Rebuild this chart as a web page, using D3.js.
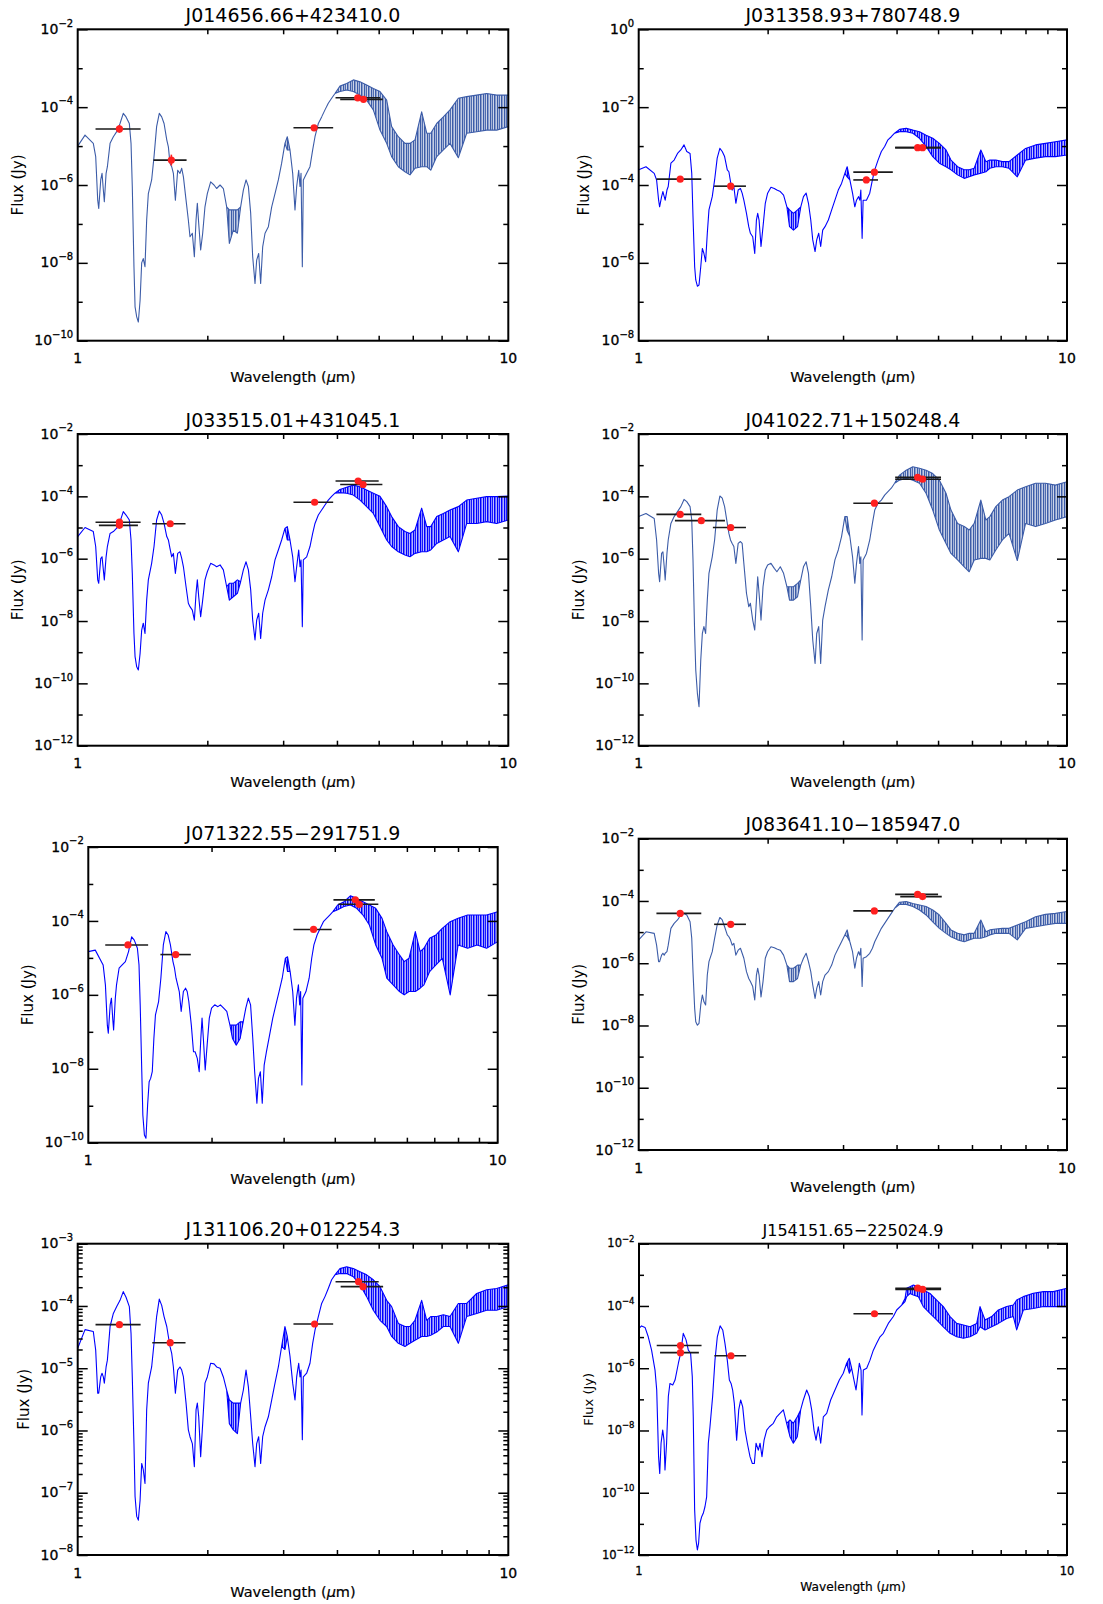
<!DOCTYPE html>
<html>
<head>
<meta charset="utf-8">
<script src="https://cdn.jsdelivr.net/npm/d3@7"></script>
<style>
  body { margin: 0; background: #fff; }
  svg { display: block; font-family: "DejaVu Sans", sans-serif; }
</style>
</head>
<body>
<svg id="fig" width="1103" height="1604"></svg>
<script>
// Object designations, one per panel
const objects = [
  "J014656.66+423410.0", "J031358.93+780748.9",
  "J033515.01+431045.1", "J041022.71+150248.4",
  "J071322.55\u2212291751.9", "J083641.10\u2212185947.0",
  "J131106.20+012254.3", "J154151.65\u2212225024.9"
];

// Model spectra: [wavelength (um), log10 flux low (Jy), log10 flux high (Jy)]
// (high omitted where the spectrum is a single line)
const spec014656 = [[1.00,-5.00],[1.04,-4.72],[1.087,-4.93],[1.101,-5.27],[1.113,-6.39],[1.119,-6.60],[1.131,-5.87],[1.139,-5.70],[1.147,-6.13],[1.153,-6.43],[1.164,-5.70],[1.172,-5.53],[1.189,-4.93],[1.21,-4.76],[1.232,-4.63],[1.254,-4.42],[1.276,-4.16],[1.295,-4.25],[1.318,-4.42],[1.33,-4.93],[1.339,-6.04],[1.351,-8.10],[1.359,-9.13],[1.371,-9.39],[1.383,-9.52],[1.396,-8.96],[1.408,-8.00],[1.42,-7.89],[1.433,-8.10],[1.446,-6.90],[1.459,-6.22],[1.485,-5.87],[1.504,-5.27],[1.525,-4.50],[1.547,-4.16],[1.567,-4.25],[1.587,-4.42],[1.61,-4.84],[1.624,-5.02],[1.638,-5.44],[1.653,-5.53],[1.668,-5.70],[1.686,-6.39],[1.707,-5.62],[1.728,-5.70],[1.744,-5.57],[1.76,-5.79],[1.785,-6.39],[1.807,-6.90],[1.823,-7.33],[1.846,-7.24],[1.866,-7.84],[1.883,-6.90],[1.896,-6.47],[1.91,-6.99],[1.93,-7.67],[1.951,-7.24],[1.975,-6.56],[2.0,-6.22],[2.036,-5.92],[2.073,-6.00],[2.102,-6.09],[2.141,-6.00],[2.179,-6.09],[2.218,-6.56],[2.25,-7.50,-6.64],[2.298,-7.16,-6.64],[2.349,-7.24,-6.64],[2.39,-6.56],[2.425,-6.13],[2.46,-5.87],[2.491,-6.04],[2.522,-6.73],[2.549,-7.84],[2.581,-8.53],[2.604,-7.93],[2.632,-7.76],[2.66,-8.53],[2.689,-7.59],[2.723,-7.24],[2.772,-7.07],[2.822,-6.56],[2.872,-6.22],[2.924,-5.87],[2.976,-5.44],[3.029,-4.93],[3.067,-5.10,-4.76],[3.112,-5.10],[3.157,-5.70],[3.196,-6.64],[3.225,-6.04],[3.26,-5.62],[3.283,-6.04],[3.301,-5.70],[3.324,-8.10],[3.342,-5.87],[3.402,-5.70],[3.463,-5.53],[3.513,-5.10],[3.557,-4.76],[3.621,-4.42],[3.686,-4.25],[3.752,-4.07],[3.819,-3.90],[3.888,-3.77],[3.958,-3.65],[4.065,-3.60,-3.46],[4.213,-3.56,-3.39],[4.366,-3.60,-3.30],[4.525,-3.69,-3.35],[4.688,-3.82,-3.43],[4.859,-4.07,-3.52],[5.035,-4.59,-3.60],[5.218,-4.93,-3.82],[5.359,-5.27,-4.50],[5.554,-5.53,-4.76],[5.755,-5.66,-4.93],[5.911,-5.74,-4.93],[6.072,-5.57,-4.84],[6.292,-5.53,-4.12],[6.465,-5.53,-4.67],[6.605,-5.62,-4.67],[6.82,-5.27,-4.42],[7.066,-5.10,-4.25],[7.322,-4.93,-4.07],[7.655,-5.30,-3.77],[8.004,-4.67,-3.73],[8.445,-4.63,-3.69],[8.906,-4.59,-3.65],[9.395,-4.59,-3.69],[10,-4.50,-3.69]];

const spec031358 = [[1.00,-3.61],[1.04,-3.53],[1.087,-3.70],[1.101,-3.87],[1.113,-4.39],[1.119,-4.56],[1.131,-4.30],[1.139,-4.17],[1.147,-4.30],[1.153,-4.39],[1.164,-4.13],[1.172,-4.04],[1.189,-3.44],[1.21,-3.36],[1.232,-3.19],[1.254,-3.10],[1.276,-2.97],[1.295,-3.14],[1.318,-3.19],[1.33,-3.70],[1.339,-4.81],[1.351,-6.10],[1.359,-6.44],[1.371,-6.60],[1.383,-6.57],[1.396,-6.10],[1.408,-5.63],[1.42,-5.76],[1.433,-5.97],[1.446,-5.24],[1.459,-4.64],[1.485,-4.30],[1.504,-3.87],[1.525,-3.31],[1.547,-3.06],[1.567,-3.14],[1.587,-3.27],[1.61,-3.61],[1.624,-3.66],[1.638,-3.91],[1.653,-4.13],[1.668,-4.04],[1.686,-4.47],[1.707,-4.13],[1.728,-4.09],[1.744,-4.21],[1.76,-4.39],[1.785,-4.73],[1.807,-5.07],[1.823,-5.24],[1.846,-5.33],[1.866,-5.76],[1.883,-4.90],[1.896,-4.73],[1.91,-4.90],[1.93,-5.58],[1.951,-5.07],[1.975,-4.47],[2.0,-4.21],[2.036,-4.06],[2.073,-4.09],[2.102,-4.13],[2.141,-4.17],[2.179,-4.26],[2.218,-4.56],[2.25,-5.07,-4.64],[2.298,-5.16,-4.73],[2.349,-5.07,-4.64],[2.39,-4.56],[2.425,-4.30],[2.46,-4.21],[2.491,-4.47],[2.522,-4.90],[2.549,-5.41],[2.581,-5.71],[2.604,-5.41],[2.632,-5.24],[2.66,-5.58],[2.689,-5.16],[2.723,-5.07],[2.772,-4.90],[2.822,-4.64],[2.872,-4.39],[2.924,-4.13],[2.976,-3.96],[3.029,-3.70],[3.067,-3.79,-3.53],[3.112,-3.87],[3.157,-4.21],[3.196,-4.56],[3.225,-4.39],[3.26,-4.30],[3.283,-4.39],[3.301,-4.13],[3.324,-5.37],[3.342,-4.39],[3.402,-4.39],[3.463,-4.21],[3.513,-3.87],[3.557,-3.61],[3.621,-3.36],[3.686,-3.14],[3.752,-3.01],[3.819,-2.84],[3.888,-2.76],[3.958,-2.67],[4.065,-2.63,-2.57],[4.213,-2.63,-2.54],[4.366,-2.67,-2.59],[4.525,-2.80,-2.63],[4.688,-3.01,-2.72],[4.859,-3.27,-2.80],[5.035,-3.44,-2.93],[5.218,-3.53,-3.10],[5.359,-3.61,-3.36],[5.554,-3.74,-3.53],[5.755,-3.83,-3.61],[5.911,-3.79,-3.61],[6.072,-3.74,-3.57],[6.292,-3.70,-3.10],[6.465,-3.66,-3.40],[6.605,-3.57,-3.36],[6.82,-3.53,-3.36],[7.066,-3.53,-3.40],[7.322,-3.57,-3.40],[7.655,-3.79,-3.23],[8.004,-3.36,-3.06],[8.445,-3.31,-2.97],[8.906,-3.27,-2.93],[9.395,-3.27,-2.89],[10,-3.23,-2.84]];

const spec033515 = [[1.00,-5.29],[1.04,-5.00],[1.087,-5.13],[1.101,-5.61],[1.113,-6.68],[1.119,-6.79],[1.131,-6.00],[1.139,-5.94],[1.147,-6.36],[1.153,-6.68],[1.164,-5.94],[1.172,-5.61],[1.189,-5.19],[1.21,-5.13],[1.232,-5.02],[1.254,-4.81],[1.276,-4.49],[1.295,-4.60],[1.318,-4.76],[1.33,-5.40],[1.339,-6.47],[1.351,-8.40],[1.359,-9.14],[1.371,-9.47],[1.383,-9.57],[1.396,-9.04],[1.408,-8.29],[1.42,-8.07],[1.433,-8.40],[1.446,-7.33],[1.459,-6.68],[1.485,-6.15],[1.504,-5.61],[1.525,-4.76],[1.547,-4.47],[1.567,-4.60],[1.587,-4.87],[1.61,-5.29],[1.624,-5.40],[1.638,-5.67],[1.653,-5.94],[1.668,-5.83],[1.686,-6.47],[1.707,-5.83],[1.728,-5.78],[1.744,-5.99],[1.76,-6.26],[1.785,-6.90],[1.807,-7.43],[1.823,-7.54],[1.846,-7.65],[1.866,-7.97],[1.883,-7.11],[1.896,-6.68],[1.91,-7.22],[1.93,-7.86],[1.951,-7.33],[1.975,-6.68],[2.0,-6.42],[2.036,-6.15],[2.073,-6.20],[2.102,-6.26],[2.141,-6.20],[2.179,-6.36],[2.218,-6.90],[2.25,-7.33,-6.79],[2.298,-7.22,-6.79],[2.349,-7.11,-6.68],[2.39,-6.74],[2.425,-6.36],[2.46,-6.10],[2.491,-6.36],[2.522,-7.00],[2.549,-7.97],[2.581,-8.61],[2.604,-7.97],[2.632,-7.75],[2.66,-8.56],[2.689,-7.75],[2.723,-7.33],[2.772,-7.00],[2.822,-6.58],[2.872,-6.04],[2.924,-5.72],[2.976,-5.40],[3.029,-5.03],[3.067,-5.40,-4.97],[3.112,-5.40],[3.157,-5.94],[3.196,-6.74],[3.225,-6.26],[3.26,-5.72],[3.283,-6.26],[3.301,-6.04],[3.324,-8.18],[3.342,-6.04],[3.402,-5.94],[3.463,-5.61],[3.513,-5.19],[3.557,-4.87],[3.621,-4.60],[3.686,-4.44],[3.752,-4.28],[3.819,-4.12],[3.888,-4.00],[3.958,-3.90],[4.065,-3.88,-3.78],[4.213,-3.90,-3.71],[4.366,-3.96,-3.64],[4.525,-4.12,-3.69],[4.688,-4.33,-3.80],[4.859,-4.55,-3.90],[5.035,-4.97,-4.00],[5.218,-5.40,-4.33],[5.359,-5.61,-4.65],[5.554,-5.78,-4.97],[5.755,-5.88,-5.13],[5.911,-5.94,-5.19],[6.072,-5.83,-5.08],[6.292,-5.78,-4.38],[6.465,-5.78,-4.97],[6.605,-5.72,-4.97],[6.82,-5.51,-4.65],[7.066,-5.40,-4.55],[7.322,-5.29,-4.44],[7.655,-5.78,-4.33],[8.004,-4.87,-4.12],[8.445,-4.87,-4.06],[8.906,-4.81,-4.01],[9.395,-4.87,-4.01],[10,-4.76,-3.99]];

const spec041022 = [[1.00,-4.65],[1.04,-4.55],[1.087,-4.71],[1.101,-5.40],[1.113,-6.47],[1.119,-6.74],[1.131,-5.83],[1.139,-5.78],[1.147,-6.26],[1.153,-6.68],[1.164,-5.83],[1.172,-5.40],[1.189,-4.87],[1.21,-4.65],[1.232,-4.49],[1.254,-4.33],[1.276,-4.10],[1.295,-4.17],[1.318,-4.33],[1.33,-4.76],[1.339,-6.04],[1.351,-8.40],[1.359,-9.57],[1.371,-10.32],[1.383,-10.75],[1.396,-9.25],[1.408,-8.40],[1.42,-8.18],[1.433,-8.40],[1.446,-7.33],[1.459,-6.47],[1.485,-5.94],[1.504,-5.40],[1.525,-4.44],[1.547,-3.99],[1.567,-4.06],[1.587,-4.33],[1.61,-4.87],[1.624,-5.19],[1.638,-5.40],[1.653,-5.51],[1.668,-5.61],[1.686,-6.15],[1.707,-5.51],[1.728,-5.45],[1.744,-5.51],[1.76,-6.15],[1.785,-7.11],[1.807,-7.54],[1.823,-7.43],[1.846,-7.97],[1.866,-8.29],[1.883,-7.33],[1.896,-6.58],[1.91,-7.11],[1.93,-7.97],[1.951,-6.90],[1.975,-6.36],[2.0,-6.20],[2.036,-6.15],[2.073,-6.31],[2.102,-6.42],[2.141,-6.26],[2.179,-6.47],[2.218,-6.90],[2.25,-7.33,-6.90],[2.298,-7.33,-6.90],[2.349,-7.22,-6.79],[2.39,-6.68],[2.425,-6.26],[2.46,-6.10],[2.491,-6.47],[2.522,-7.54],[2.549,-8.61],[2.581,-9.36],[2.604,-8.40],[2.632,-8.18],[2.66,-9.36],[2.689,-7.97],[2.723,-7.54],[2.772,-7.00],[2.822,-6.58],[2.872,-6.04],[2.924,-5.72],[2.976,-5.29],[3.029,-4.65],[3.067,-5.10,-4.65],[3.112,-5.29],[3.157,-5.94],[3.196,-6.79],[3.225,-6.15],[3.26,-5.61],[3.283,-6.15],[3.301,-5.94],[3.324,-8.61],[3.342,-6.04],[3.402,-5.83],[3.463,-5.40],[3.513,-4.87],[3.557,-4.44],[3.621,-4.22],[3.686,-4.12],[3.752,-3.96],[3.819,-3.85],[3.888,-3.74],[3.958,-3.58],[4.065,-3.48,-3.32],[4.213,-3.42,-3.16],[4.366,-3.48,-3.05],[4.525,-3.58,-3.10],[4.688,-3.90,-3.16],[4.859,-4.44,-3.27],[5.035,-5.08,-3.48],[5.218,-5.51,-3.90],[5.359,-5.83,-4.44],[5.554,-6.04,-4.87],[5.755,-6.26,-4.97],[5.911,-6.42,-5.08],[6.072,-6.04,-4.87],[6.292,-5.99,-4.12],[6.465,-5.99,-4.76],[6.605,-6.04,-4.65],[6.82,-5.72,-4.33],[7.066,-5.40,-4.12],[7.322,-5.19,-4.01],[7.655,-6.06,-3.80],[8.004,-4.87,-3.69],[8.445,-4.97,-3.58],[8.906,-4.87,-3.58],[9.395,-4.76,-3.64],[10,-4.65,-3.53]];

const spec071322 = [[1.00,-4.83],[1.04,-4.79],[1.087,-5.19],[1.101,-5.73],[1.113,-6.82],[1.119,-7.04],[1.131,-6.27],[1.139,-6.09],[1.147,-6.63],[1.153,-6.95],[1.164,-6.09],[1.172,-5.73],[1.189,-5.28],[1.21,-5.19],[1.232,-5.10],[1.254,-4.83],[1.276,-4.43],[1.295,-4.52],[1.318,-4.74],[1.33,-5.19],[1.339,-6.27],[1.351,-8.08],[1.359,-9.25],[1.371,-9.79],[1.383,-9.88],[1.396,-8.98],[1.408,-8.35],[1.42,-8.26],[1.433,-8.08],[1.446,-7.18],[1.459,-6.54],[1.485,-6.18],[1.504,-5.55],[1.525,-4.65],[1.547,-4.29],[1.567,-4.38],[1.587,-4.65],[1.61,-5.10],[1.624,-5.28],[1.638,-5.55],[1.653,-5.73],[1.668,-5.91],[1.686,-6.45],[1.707,-5.91],[1.728,-5.82],[1.744,-5.91],[1.76,-6.18],[1.785,-6.82],[1.807,-7.54],[1.823,-7.54],[1.846,-7.72],[1.866,-8.08],[1.883,-7.18],[1.896,-6.63],[1.91,-7.18],[1.93,-8.03],[1.951,-7.36],[1.975,-6.63],[2.0,-6.36],[2.036,-6.27],[2.073,-6.32],[2.102,-6.27],[2.141,-6.36],[2.179,-6.45],[2.218,-6.82],[2.25,-7.18,-6.82],[2.298,-7.36,-6.82],[2.349,-7.18,-6.73],[2.39,-6.73],[2.425,-6.36],[2.46,-6.09],[2.491,-6.27],[2.522,-7.18],[2.549,-8.08],[2.581,-8.93],[2.604,-8.26],[2.632,-8.08],[2.66,-8.93],[2.689,-7.90],[2.723,-7.54],[2.772,-7.09],[2.822,-6.63],[2.872,-6.27],[2.924,-5.91],[2.976,-5.55],[3.029,-5.01],[3.067,-5.37,-4.97],[3.112,-5.37],[3.157,-5.91],[3.196,-6.82],[3.225,-6.09],[3.26,-5.73],[3.283,-6.27],[3.301,-5.91],[3.324,-8.44],[3.342,-6.09],[3.402,-5.91],[3.463,-5.55],[3.513,-5.01],[3.557,-4.65],[3.621,-4.38],[3.686,-4.20],[3.752,-4.02],[3.819,-3.93],[3.888,-3.84],[3.958,-3.75],[4.065,-3.70,-3.57],[4.213,-3.61,-3.48],[4.366,-3.57,-3.32],[4.525,-3.66,-3.39],[4.688,-3.84,-3.48],[4.859,-4.11,-3.57],[5.035,-4.65,-3.66],[5.218,-5.01,-3.93],[5.359,-5.55,-4.29],[5.554,-5.73,-4.65],[5.755,-5.91,-4.92],[5.911,-6.00,-5.10],[6.072,-5.91,-5.01],[6.292,-5.91,-4.29],[6.465,-5.82,-4.83],[6.605,-5.73,-4.74],[6.82,-5.37,-4.47],[7.066,-5.19,-4.38],[7.322,-5.01,-4.20],[7.655,-6.00,-4.02],[8.004,-4.65,-3.93],[8.445,-4.74,-3.84],[8.906,-4.65,-3.84],[9.395,-4.74,-3.84],[10,-4.56,-3.75]];

const spec083641 = [[1.00,-5.25],[1.04,-4.99],[1.087,-5.04],[1.101,-5.42],[1.113,-5.95],[1.119,-5.95],[1.131,-5.74],[1.139,-5.68],[1.147,-5.74],[1.153,-5.68],[1.164,-5.63],[1.172,-5.42],[1.189,-4.88],[1.21,-4.72],[1.232,-4.61],[1.254,-4.45],[1.276,-4.40],[1.295,-4.45],[1.318,-4.67],[1.33,-5.20],[1.339,-6.27],[1.351,-7.45],[1.359,-7.88],[1.371,-7.99],[1.383,-7.93],[1.396,-7.34],[1.408,-7.02],[1.42,-7.24],[1.433,-7.34],[1.446,-6.38],[1.459,-5.95],[1.485,-5.63],[1.504,-5.20],[1.525,-4.77],[1.547,-4.53],[1.567,-4.61],[1.587,-4.83],[1.61,-5.09],[1.624,-5.15],[1.638,-5.25],[1.653,-5.42],[1.668,-5.36],[1.686,-5.74],[1.707,-5.58],[1.728,-5.52],[1.744,-5.68],[1.76,-5.84],[1.785,-6.27],[1.807,-6.49],[1.823,-6.59],[1.846,-6.75],[1.866,-7.18],[1.883,-6.38],[1.896,-6.16],[1.91,-6.38],[1.93,-7.08],[1.951,-6.59],[1.975,-5.84],[2.0,-5.63],[2.036,-5.47],[2.073,-5.50],[2.102,-5.54],[2.141,-5.58],[2.179,-5.74],[2.218,-6.06],[2.25,-6.59,-6.16],[2.298,-6.59,-6.16],[2.349,-6.49,-6.06],[2.39,-6.06],[2.425,-5.84],[2.46,-5.68],[2.491,-5.95],[2.522,-6.27],[2.549,-6.70],[2.581,-7.13],[2.604,-6.81],[2.632,-6.59],[2.66,-7.02],[2.689,-6.59],[2.723,-6.38],[2.772,-6.27],[2.822,-6.06],[2.872,-5.74],[2.924,-5.52],[2.976,-5.31],[3.029,-5.09],[3.067,-5.15,-4.93],[3.112,-5.31],[3.157,-5.63],[3.196,-6.16],[3.225,-5.84],[3.26,-5.63],[3.283,-5.74],[3.301,-5.52],[3.324,-6.75],[3.342,-5.84],[3.402,-5.79],[3.463,-5.68],[3.513,-5.52],[3.557,-5.31],[3.621,-5.09],[3.686,-4.88],[3.752,-4.72],[3.819,-4.56],[3.888,-4.40],[3.958,-4.24],[4.065,-4.11,-4.04],[4.213,-4.11,-4.02],[4.366,-4.18,-4.08],[4.525,-4.29,-4.13],[4.688,-4.45,-4.18],[4.859,-4.67,-4.29],[5.035,-4.88,-4.45],[5.218,-5.04,-4.72],[5.359,-5.15,-4.93],[5.554,-5.25,-5.04],[5.755,-5.31,-5.09],[5.911,-5.25,-5.04],[6.072,-5.20,-5.04],[6.292,-5.20,-4.61],[6.465,-5.15,-4.99],[6.605,-5.09,-4.93],[6.82,-5.04,-4.90],[7.066,-5.04,-4.88],[7.322,-5.04,-4.88],[7.655,-5.25,-4.77],[8.004,-4.88,-4.67],[8.445,-4.83,-4.51],[8.906,-4.77,-4.43],[9.395,-4.72,-4.40],[10,-4.72,-4.34]];

const spec131106 = [[1.00,-4.68],[1.04,-4.38],[1.087,-4.41],[1.101,-4.71],[1.113,-5.40],[1.119,-5.40],[1.131,-5.14],[1.139,-5.08],[1.147,-5.14],[1.153,-5.24],[1.164,-4.98],[1.172,-4.87],[1.189,-4.33],[1.21,-4.12],[1.232,-4.01],[1.254,-3.91],[1.276,-3.77],[1.295,-3.86],[1.318,-4.01],[1.33,-4.44],[1.339,-5.14],[1.351,-6.21],[1.359,-7.06],[1.371,-7.38],[1.383,-7.44],[1.396,-7.12],[1.408,-6.53],[1.42,-6.63],[1.433,-6.85],[1.446,-5.67],[1.459,-5.24],[1.485,-4.98],[1.504,-4.60],[1.525,-4.17],[1.547,-3.89],[1.567,-3.99],[1.587,-4.17],[1.61,-4.33],[1.624,-4.49],[1.638,-4.65],[1.653,-4.76],[1.668,-4.98],[1.686,-5.40],[1.707,-5.03],[1.728,-4.98],[1.744,-5.03],[1.76,-5.14],[1.785,-5.56],[1.807,-5.99],[1.823,-6.10],[1.846,-6.21],[1.866,-6.58],[1.883,-5.67],[1.896,-5.56],[1.91,-5.78],[1.93,-6.42],[1.951,-5.89],[1.975,-5.24],[2.0,-5.14],[2.036,-4.92],[2.073,-4.93],[2.102,-4.98],[2.141,-5.00],[2.179,-5.14],[2.218,-5.35],[2.25,-5.89,-5.51],[2.298,-5.99,-5.56],[2.349,-6.05,-5.56],[2.39,-5.56],[2.425,-5.35],[2.46,-5.03],[2.491,-5.30],[2.522,-5.78],[2.549,-6.21],[2.581,-6.58],[2.604,-6.21],[2.632,-6.10],[2.66,-6.53],[2.689,-6.10],[2.723,-5.94],[2.772,-5.78],[2.822,-5.51],[2.872,-5.24],[2.924,-4.98],[2.976,-4.65],[3.029,-4.70,-4.33],[3.067,-4.49],[3.112,-4.81],[3.157,-5.24],[3.196,-5.51],[3.225,-5.14],[3.26,-4.92],[3.283,-5.14],[3.301,-5.03],[3.324,-6.15],[3.342,-5.14],[3.402,-5.08],[3.463,-4.92],[3.513,-4.60],[3.557,-4.39],[3.621,-4.17],[3.686,-3.96],[3.752,-3.85],[3.819,-3.72],[3.888,-3.58],[3.958,-3.50],[4.065,-3.48,-3.40],[4.213,-3.48,-3.37],[4.366,-3.53,-3.40],[4.525,-3.66,-3.45],[4.688,-3.85,-3.50],[4.859,-4.07,-3.58],[5.035,-4.23,-3.69],[5.218,-4.33,-3.91],[5.359,-4.49,-4.01],[5.554,-4.60,-4.28],[5.755,-4.65,-4.33],[5.911,-4.60,-4.33],[6.072,-4.55,-4.23],[6.292,-4.49,-3.91],[6.465,-4.49,-4.23],[6.605,-4.47,-4.17],[6.82,-4.42,-4.17],[7.066,-4.33,-4.14],[7.322,-4.33,-4.17],[7.655,-4.60,-3.96],[8.004,-4.17,-3.96],[8.445,-4.12,-3.80],[8.906,-4.07,-3.74],[9.395,-4.07,-3.72],[10,-4.01,-3.66]];

const spec154151 = [[1.00,-4.72],[1.014,-4.64],[1.033,-4.69],[1.051,-4.99],[1.070,-5.42],[1.090,-6.06],[1.100,-6.70],[1.111,-8.84],[1.118,-9.38],[1.126,-8.41],[1.136,-7.99],[1.144,-8.31],[1.150,-9.27],[1.160,-8.41],[1.171,-6.91],[1.181,-6.49],[1.199,-6.54],[1.214,-6.38],[1.236,-5.84],[1.251,-5.52],[1.269,-4.88],[1.288,-5.09],[1.304,-5.42],[1.320,-5.52],[1.332,-6.27],[1.339,-7.56],[1.349,-10.55],[1.359,-11.52],[1.369,-11.84],[1.378,-11.62],[1.388,-10.98],[1.401,-10.77],[1.413,-10.66],[1.426,-10.45],[1.439,-10.13],[1.452,-8.41],[1.465,-7.88],[1.486,-6.91],[1.505,-5.74],[1.524,-4.99],[1.547,-4.64],[1.569,-4.77],[1.588,-5.20],[1.608,-5.74],[1.626,-6.38],[1.641,-6.49],[1.655,-6.70],[1.670,-7.13],[1.691,-8.31],[1.710,-7.34],[1.728,-7.02],[1.747,-7.24],[1.769,-7.99],[1.791,-8.41],[1.817,-8.84],[1.840,-9.06],[1.860,-9.06],[1.877,-8.41],[1.900,-8.63],[1.918,-8.41],[1.938,-8.84],[1.960,-8.31],[1.988,-7.99],[2.017,-7.88],[2.060,-7.77],[2.098,-7.56],[2.135,-7.45],[2.174,-7.34],[2.213,-7.77],[2.253,-8.20,-7.66],[2.294,-8.41,-7.77],[2.344,-8.20,-7.56],[2.386,-7.34],[2.421,-7.02],[2.465,-6.70],[2.500,-6.91],[2.532,-7.34],[2.564,-7.99],[2.592,-8.31],[2.624,-7.88],[2.658,-8.41],[2.696,-7.56],[2.745,-7.45],[2.804,-7.02],[2.870,-6.70],[2.938,-6.38],[3.001,-6.16],[3.056,-5.84],[3.100,-6.16,-5.68],[3.139,-6.00],[3.179,-6.38],[3.214,-6.70],[3.243,-6.27],[3.272,-5.84],[3.302,-6.06],[3.319,-7.50],[3.343,-6.06],[3.404,-6.00],[3.465,-5.74],[3.528,-5.42],[3.592,-5.20],[3.657,-4.99],[3.723,-4.88],[3.824,-4.56],[3.929,-4.34],[4.000,-4.13],[4.109,-3.97],[4.183,-3.86,-3.76],[4.221,-3.70,-3.43],[4.297,-3.60,-3.38],[4.375,-3.65,-3.33],[4.494,-3.70,-3.38],[4.616,-4.02,-3.49],[4.785,-4.24,-3.60],[4.960,-4.45,-3.81],[5.141,-4.67,-4.02],[5.330,-4.88,-4.34],[5.524,-4.99,-4.56],[5.727,-5.04,-4.61],[5.934,-4.99,-4.67],[6.152,-4.88,-4.56],[6.263,-4.67,-4.02],[6.434,-4.77,-4.45],[6.668,-4.67,-4.34],[6.912,-4.56,-4.13],[7.228,-4.40,-4.02],[7.492,-4.34,-3.97],[7.628,-4.77,-3.81],[7.907,-4.13,-3.70],[8.342,-4.08,-3.59],[8.805,-4.02,-3.54],[9.292,-4.02,-3.54],[10,-4.02,-3.43]];

// Photometry: [wavelength (um), log10 flux (Jy), band min (um), band max (um), flux error (dex)]
const phot014656 = [[1.25,-4.56,1.10,1.40,0.10],[1.65,-5.36,1.50,1.79,0.14],[3.54,-4.53,3.17,3.92,0],[4.47,-3.76,3.97,5.04,0],[4.61,-3.80,4.07,5.11,0]];
const phot031358 = [[1.25,-3.85,1.10,1.40,0],[1.64,-4.03,1.50,1.78,0],[3.40,-3.87,3.17,3.62,0],[3.55,-3.67,3.17,3.92,0],[4.48,-3.04,3.97,5.08,0],[4.60,-3.04,3.97,5.08,0]];
const phot033515 = [[1.25,-4.83,1.10,1.40,0.08],[1.25,-4.93,1.12,1.38,0.05],[1.64,-4.88,1.49,1.78,0],[3.55,-4.19,3.17,3.92,0],[4.48,-3.51,3.97,5.00,0],[4.60,-3.62,4.07,5.10,0]];
const phot041022 = [[1.25,-4.58,1.10,1.40,0],[1.40,-4.78,1.215,1.59,0],[1.64,-5.00,1.49,1.78,0],[3.55,-4.22,3.17,3.92,0],[4.48,-3.39,3.97,5.08,0],[4.60,-3.45,3.97,5.08,0]];
const phot071322 = [[1.25,-4.65,1.10,1.40,0],[1.635,-4.91,1.50,1.78,0],[3.55,-4.23,3.17,3.93,0],[4.49,-3.43,3.97,5.01,0],[4.59,-3.55,4.08,5.11,0]];
const phot083641 = [[1.25,-4.40,1.10,1.40,0.07],[1.64,-4.75,1.50,1.78,0.09],[3.55,-4.32,3.17,3.92,0],[4.48,-3.79,3.97,5.00,0],[4.60,-3.86,4.08,5.10,0]];
const phot131106 = [[1.25,-4.30,1.10,1.40,0],[1.64,-4.59,1.49,1.78,0.03],[3.55,-4.29,3.17,3.92,0],[4.49,-3.61,3.97,5.00,0],[4.60,-3.69,4.08,5.12,0]];
const phot154151 = [[1.25,-5.27,1.10,1.40,0],[1.25,-5.50,1.12,1.38,0],[1.64,-5.60,1.50,1.78,0],[3.55,-4.25,3.17,3.92,0],[4.48,-3.43,3.97,5.08,0],[4.60,-3.47,3.97,5.08,0]];

// Axis ranges (log10 Jy) and label spacing in decades
const yRanges = [[-10,-2],[-8,0],[-12,-2],[-12,-2],[-10,-2],[-12,-2],[-8,-3],[-12,-2]];
const yLabelStep = [2,2,2,2,2,2,1,2];
const xTickLabels = [1, 10];
const xMinorTicks = [2, 3, 4, 5, 6, 7, 8, 9];

const spectra = [spec014656, spec031358, spec033515, spec041022, spec071322, spec083641, spec131106, spec154151];
const photometry = [phot014656, phot031358, phot033515, phot041022, phot071322, phot083641, phot131106, phot154151];

// Panel geometry and styling
const layout = [
  {L: 77.7,  R: 508.3, T: 29.3,   B: 340.7,  fluxX: 22.5},
  {L: 638.7, R: 1067,  T: 29.3,   B: 340.7,  fluxX: 589},
  {L: 77.7,  R: 508.3, T: 434,    B: 745.7,  fluxX: 22.5},
  {L: 638.7, R: 1067,  T: 434,    B: 745.7,  fluxX: 584},
  {L: 88.3,  R: 497.7, T: 847,    B: 1142.7, fluxX: 32.5},
  {L: 638.7, R: 1067,  T: 838.7,  B: 1150,   fluxX: 584},
  {L: 77.7,  R: 508.3, T: 1243.7, B: 1555,   fluxX: 29},
  {L: 639,   R: 1067,  T: 1243.7, B: 1555,   fluxX: 592.5, small: true}
];
const lineColors = ["#3c5ca8", "#0000ff", "#0000ff", "#3c5ca8", "#0000ff", "#3c5ca8", "#0000ff", "#0000ff"];
// Column shading of the dense-line texture inside the scatter band
const hatchColumns = [1, 0.45, 0.9, 0.25, 1, 0.6, 0.3];

const svg = d3.select("#fig");
const defs = svg.append("defs");

spectra.forEach((spec, i) => {
  const box = layout[i];
  const [eMin, eMax] = yRanges[i];
  const color = lineColors[i];
  const fs = box.small
    ? {title: 16, tick: 11.5, sup: 8.5, xlab: 12.2, ylab: 13, xTickDy: 19.5, xLabDy: 35.5}
    : {title: 19, tick: 14, sup: 10, xlab: 14.5, ylab: 15, xTickDy: 22.5, xLabDy: 41.5};

  const x = d3.scaleLog().domain([1, 10]).range([box.L, box.R]);
  const y = d3.scaleLog().domain([10 ** eMin, 10 ** eMax]).range([box.B, box.T]);
  const g = svg.append("g");

  const clipId = "plotclip" + i;
  defs.append("clipPath").attr("id", clipId).append("rect")
    .attr("x", box.L).attr("y", box.T)
    .attr("width", box.R - box.L).attr("height", box.B - box.T);

  // Densely sampled spectral lines: vertical hatching inside the scatter band
  const hatchId = "hatch" + i;
  const pat = defs.append("pattern").attr("id", hatchId)
    .attr("patternUnits", "userSpaceOnUse").attr("width", hatchColumns.length).attr("height", 6);
  hatchColumns.forEach((op, k) => {
    pat.append("rect").attr("x", k).attr("y", 0).attr("width", 1).attr("height", 6)
      .attr("fill", color).attr("fill-opacity", op);
  });

  // Spectrum: single line where low == high, hatched band where it scatters
  const band = d3.area()
    .x(d => x(d[0]))
    .y0(d => y(10 ** d[1]))
    .y1(d => y(10 ** (d.length > 2 ? d[2] : d[1])));
  g.append("path").datum(spec)
    .attr("d", band)
    .attr("fill", `url(#${hatchId})`)
    .attr("stroke", color).attr("stroke-width", 1.1)
    .attr("stroke-linejoin", "round")
    .attr("clip-path", `url(#${clipId})`);

  // Photometric band widths
  const phot = photometry[i];
  g.selectAll("line.band").data(phot).join("line").attr("class", "band")
    .attr("x1", d => x(d[2])).attr("x2", d => x(d[3]))
    .attr("y1", d => y(10 ** d[1])).attr("y2", d => y(10 ** d[1]))
    .attr("stroke", "#1a1a1a").attr("stroke-width", 1.6);
  // Flux uncertainties
  g.selectAll("line.err").data(phot.filter(d => d[4] > 0)).join("line").attr("class", "err")
    .attr("x1", d => x(d[0])).attr("x2", d => x(d[0]))
    .attr("y1", d => y(10 ** (d[1] - d[4]))).attr("y2", d => y(10 ** (d[1] + d[4])))
    .attr("stroke", "#ff2020").attr("stroke-width", 1.6);
  // Photometric points
  g.selectAll("circle.pt").data(phot).join("circle").attr("class", "pt")
    .attr("cx", d => x(d[0])).attr("cy", d => y(10 ** d[1]))
    .attr("r", 3.6).attr("fill", "#ff2020");

  // Tick marks (pointing inward on all four sides)
  const decades = d3.range(eMin, eMax + 1);
  const labeled = decades.filter(e => (e - eMin) % yLabelStep[i] === 0).map(e => 10 ** e);
  const unlabeled = decades.filter(e => (e - eMin) % yLabelStep[i] !== 0).map(e => 10 ** e);
  let minor = [];
  if (yLabelStep[i] === 1) {
    d3.range(eMin, eMax).forEach(e => { for (let m = 2; m <= 9; m++) minor.push(m * 10 ** e); });
  }
  const styleTicks = s => {
    s.select(".domain").remove();
    s.selectAll(".tick line").attr("stroke", "#000").attr("stroke-width", 1.5);
    s.selectAll(".tick text").remove();
  };
  const yTickSets = [[labeled, 10], [unlabeled, 5], [minor, 5]];
  yTickSets.forEach(([vals, len]) => {
    if (!vals.length) return;
    g.append("g").attr("transform", `translate(${box.L},0)`)
      .call(d3.axisLeft(y).tickValues(vals).tickSizeInner(-len).tickSizeOuter(0)).call(styleTicks);
    g.append("g").attr("transform", `translate(${box.R},0)`)
      .call(d3.axisRight(y).tickValues(vals).tickSizeInner(-len).tickSizeOuter(0)).call(styleTicks);
  });
  g.append("g").attr("transform", `translate(0,${box.B})`)
    .call(d3.axisBottom(x).tickValues(xMinorTicks).tickSizeInner(-5).tickSizeOuter(0)).call(styleTicks);
  g.append("g").attr("transform", `translate(0,${box.T})`)
    .call(d3.axisTop(x).tickValues(xMinorTicks).tickSizeInner(-5).tickSizeOuter(0)).call(styleTicks);

  // Plot frame
  g.append("rect")
    .attr("x", box.L).attr("y", box.T)
    .attr("width", box.R - box.L).attr("height", box.B - box.T)
    .attr("fill", "none").attr("stroke", "#000").attr("stroke-width", 2);

  // Y tick labels as powers of ten
  labeled.forEach(v => {
    const e = Math.round(Math.log10(v));
    const t = g.append("text")
      .attr("x", box.L - 4.5).attr("y", y(v) + fs.tick * 0.33)
      .attr("text-anchor", "end").attr("font-size", fs.tick).attr("fill", "#000")
      .attr("stroke", "#000").attr("stroke-width", 0.3);
    t.append("tspan").text("10");
    t.append("tspan").attr("dy", -fs.tick * 0.52).attr("font-size", fs.sup)
      .text(e < 0 ? "\u2212" + Math.abs(e) : String(e));
  });

  // X tick labels
  xTickLabels.forEach(v => {
    g.append("text").attr("x", x(v)).attr("y", box.B + fs.xTickDy)
      .attr("text-anchor", "middle").attr("font-size", fs.tick)
      .attr("stroke", "#000").attr("stroke-width", 0.3).text(v);
  });

  // Axis titles
  const cx = (box.L + box.R) / 2, cy = (box.T + box.B) / 2;
  const xl = g.append("text").attr("x", cx).attr("y", box.B + fs.xLabDy)
    .attr("text-anchor", "middle").attr("font-size", fs.xlab)
    .attr("stroke", "#000").attr("stroke-width", 0.2);
  xl.append("tspan").text("Wavelength (");
  xl.append("tspan").attr("font-style", "italic").text("\u03bc");
  xl.append("tspan").text("m)");

  g.append("text")
    .attr("transform", `translate(${box.fluxX},${cy}) rotate(-90)`)
    .attr("text-anchor", "middle").attr("font-size", fs.ylab)
    .text("Flux (Jy)");

  // Panel title
  g.append("text").attr("x", cx).attr("y", box.T - 7.3)
    .attr("text-anchor", "middle").attr("font-size", fs.title)
    .text(objects[i]);
});
</script>
</body>
</html>
